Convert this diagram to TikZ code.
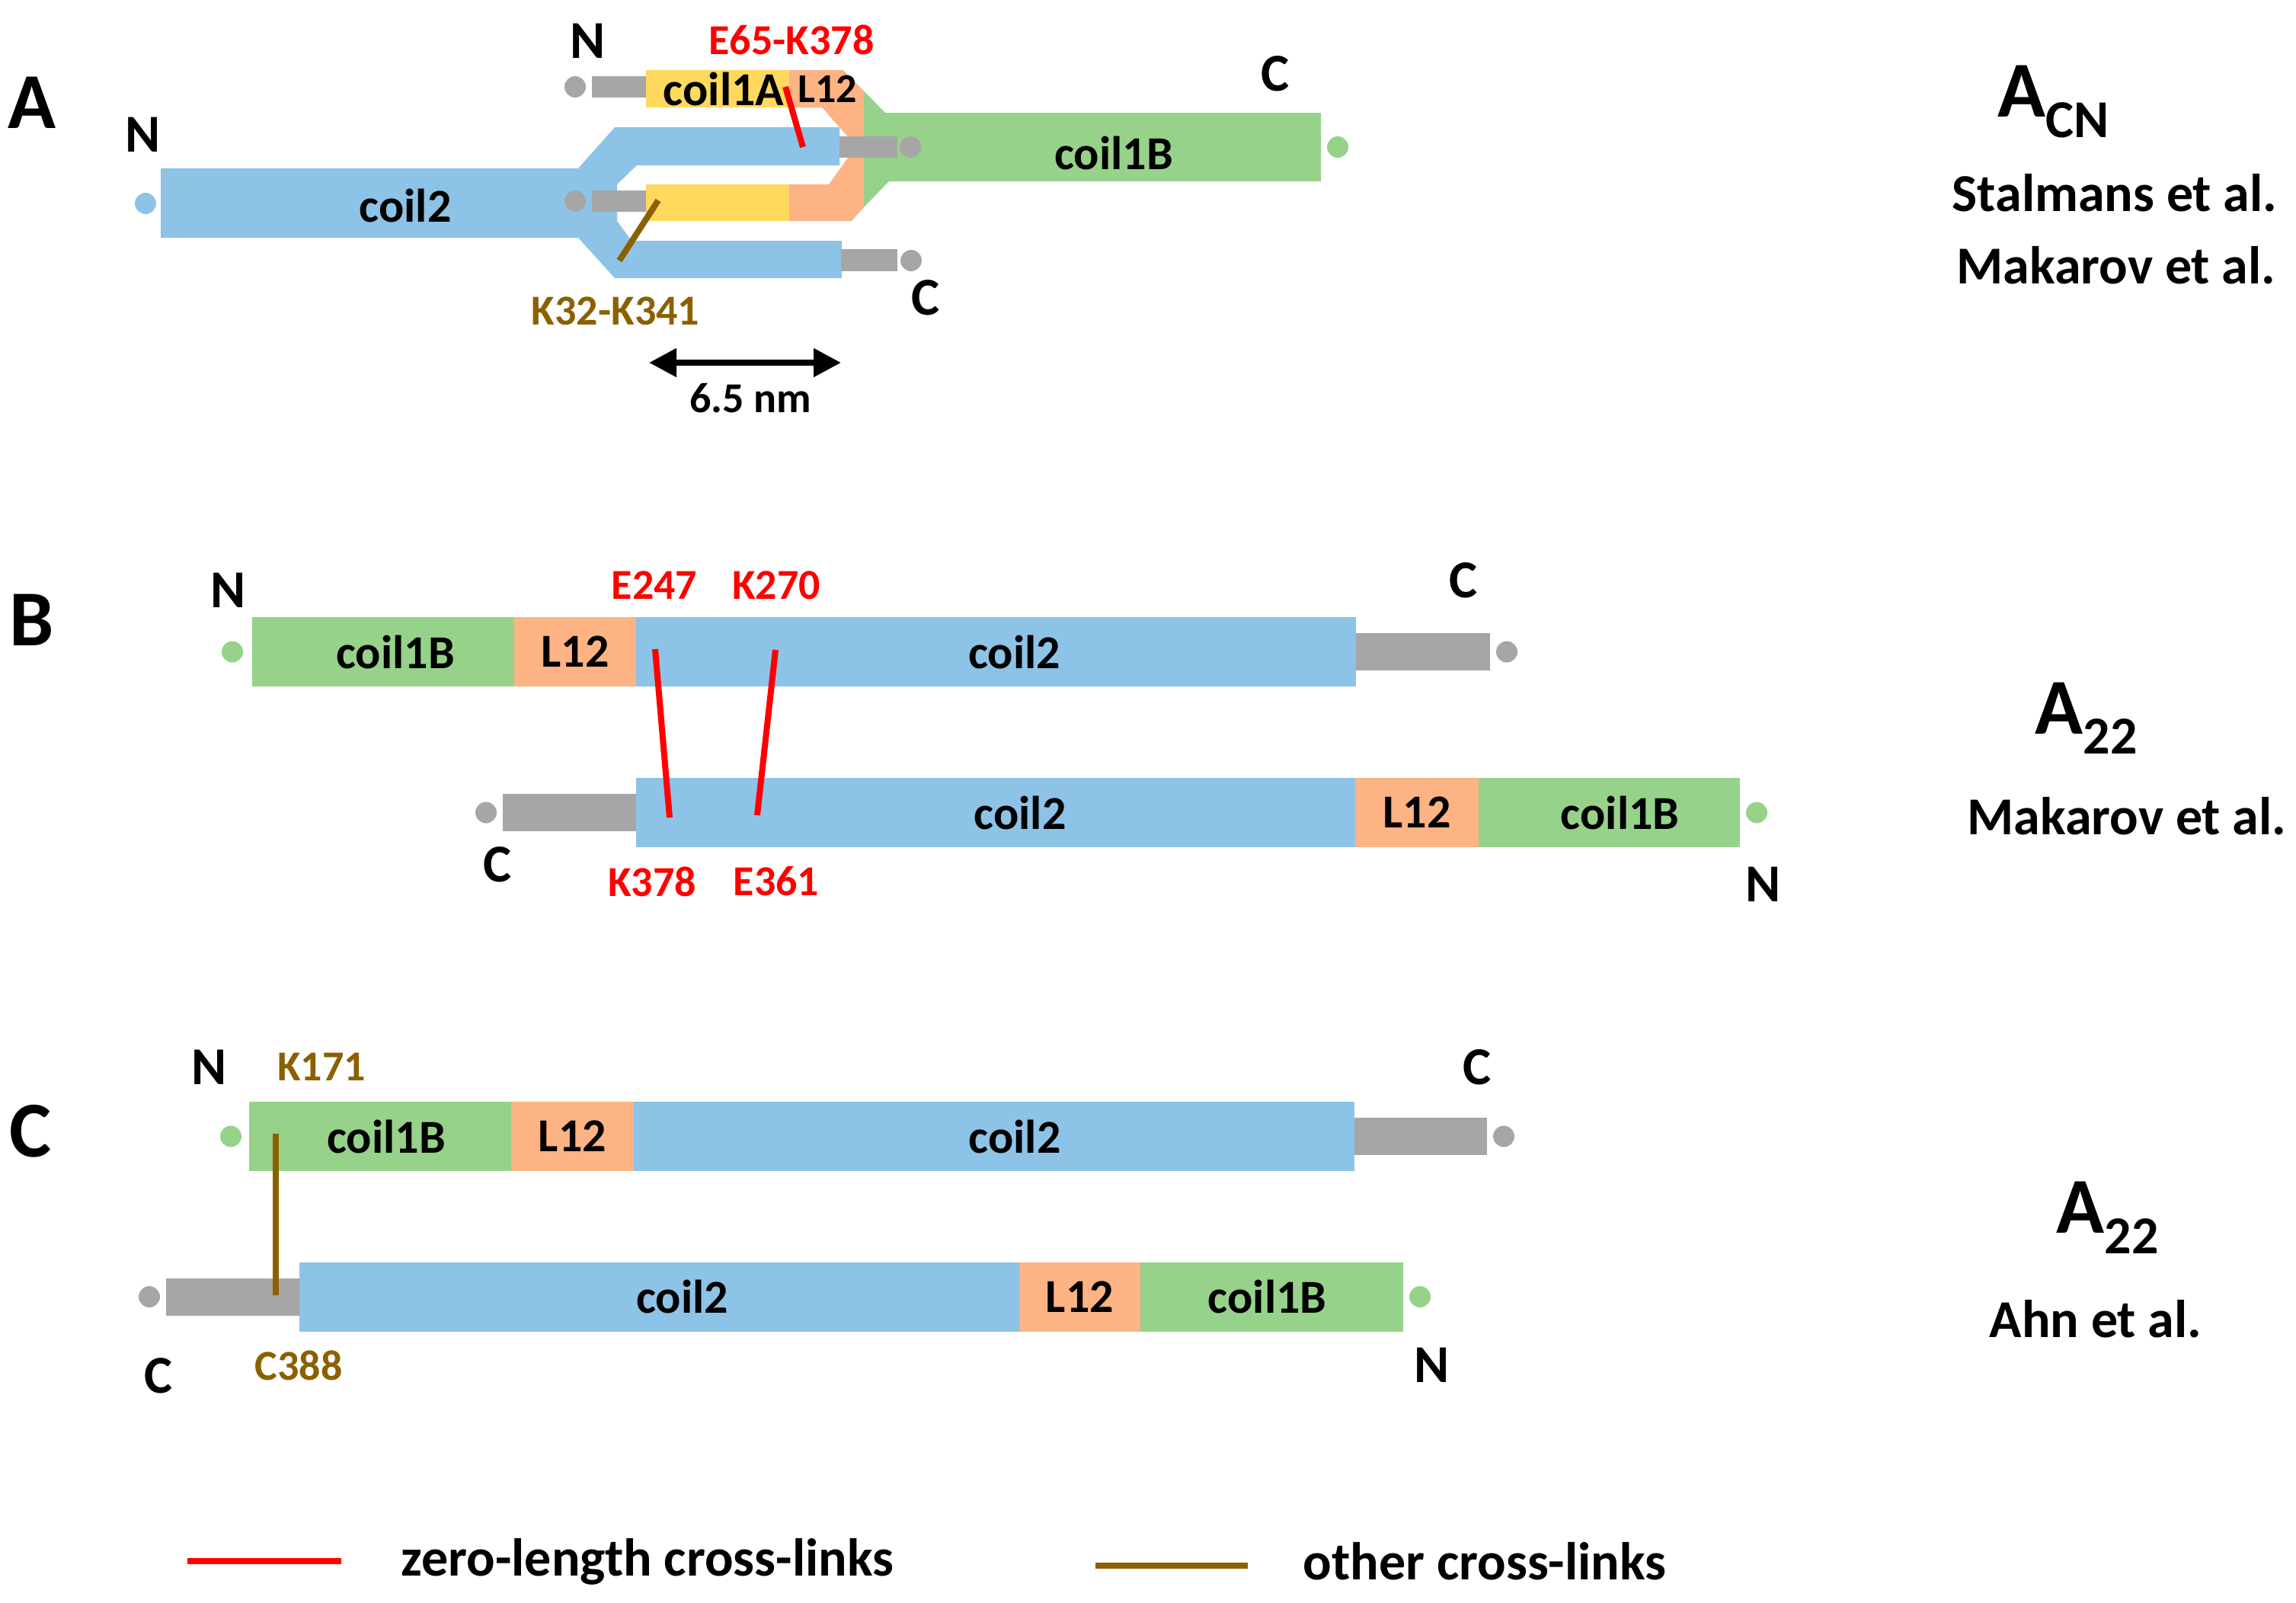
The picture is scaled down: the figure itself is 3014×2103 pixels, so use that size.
\documentclass[tikz,border=0pt]{standalone}
\usepackage{fontspec}
\setmainfont{Carlito}
\usetikzlibrary{positioning}
\usetikzlibrary{arrows.meta}

\definecolor{cblue}{RGB}{141,195,230}
\definecolor{cgreen}{RGB}{151,210,139}
\definecolor{corange}{RGB}{253,179,132}
\definecolor{cyellow}{RGB}{255,217,94}
\definecolor{cgray}{RGB}{166,166,166}
\definecolor{cred}{RGB}{255,0,0}
\definecolor{cbrown}{RGB}{139,96,0}

\begin{document}
\begin{tikzpicture}[x=0.25pt, y=-0.25pt,
  segbox/.style = {rectangle, inner sep=0pt, outer sep=0pt, minimum height=22.75pt, font=\fontsize{15.5}{18}\selectfont\bfseries},
  segtext/.style = {inner sep=0pt, font=\fontsize{15.5}{18}\selectfont\bfseries},
  tailbar/.style = {rectangle, fill=cgray, inner sep=0pt, outer sep=0pt, minimum height=12.25pt},
  enddot/.style = {circle, inner sep=0pt, outer sep=0pt, minimum size=7pt},
  termlbl/.style = {font=\fontsize{17.5}{20}\selectfont\bfseries},
  sitelbl/.style = {font=\fontsize{14}{17}\selectfont\bfseries},
  panellbl/.style = {font=\fontsize{26}{30}\selectfont\bfseries, anchor=base},
  oligolbl/.style = {font=\fontsize{26}{30}\selectfont\bfseries, anchor=base west, inner sep=0pt},
  reflbl/.style = {font=\fontsize{17.5}{20}\selectfont\bfseries, anchor=base},
  zerolink/.style = {draw=cred, line width=2pt},
  otherlink/.style = {draw=cbrown, line width=2pt}]
\useasboundingbox (0,0) rectangle (3014,2103);

% panel A
\fill[corange] (1036,92) -- (1107,92) -- (1134,119.5) -- (1134,272) -- (1118,290) -- (1036,290) -- (1036,242) -- (1088,242) -- (1124,192) -- (1079,141) -- (1036,141) -- cycle;
\fill[cgreen] (1134,119.5) -- (1162,148) -- (1734,148) -- (1734,238) -- (1167,238) -- (1134,272) -- cycle;
\fill[cyellow] (848,92) rectangle (1036,141);
\fill[cyellow] (848,242) rectangle (1036,290);
\fill[cblue] (211,221) -- (759,221) -- (807,167) -- (1102,167) -- (1102,217) -- (836,217) -- (810,242) -- (810,290) -- (829,316) -- (1105,316) -- (1105,365) -- (807,365) -- (759,312) -- (211,312) -- cycle;
\node[tailbar, minimum width=17.75pt, minimum height=7pt] (aNtail1) at (812.5,114) {};
\node[tailbar, minimum width=17.75pt, minimum height=7pt] (aNtail2) at (812.5,264) {};
\node[tailbar, minimum width=19pt, minimum height=7pt] (aCtail1) at (1140,193) {};
\node[tailbar, minimum width=18.5pt, minimum height=7.25pt] (aCtail2) at (1141,341.5) {};
\node[enddot, fill=cgray] (aNdot1) at (755,114) {};
\node[enddot, fill=cgray] (aNdot2) at (755,264) {};
\node[enddot, fill=cgray] (aCdot1) at (1195,193) {};
\node[enddot, fill=cgray] (aCdot2) at (1196,342) {};
\node[enddot, fill=cblue] (aNdot0) at (191,267) {};
\node[enddot, fill=cgreen] (aCdot0) at (1756,193) {};
\node[panellbl] (pA) at (42,168) {A};
\node[termlbl] (aN0) at (188,177) {N};
\node[termlbl] (aN1) at (772,54) {N};
\node[termlbl] (aC0) at (1674,97) {C};
\node[termlbl] (aC2) at (1215,391) {C};
\node[segbox] (acoil2) at (532,270) {coil2};
\node[segbox] (acoilA) at (950,117) {coil1A};
\node[segbox, font=\fontsize{13.5}{16}\selectfont\bfseries] (aL12) at (1086,117) {L12};
\node[segbox] (acoilB) at (1462,201) {coil1B};
\coordinate (e65) at (1031,114);
\coordinate (k378a) at (1054,193);
\coordinate (k32) at (864,263);
\coordinate (k341) at (813,342);
\draw[zerolink] (e65) -- (k378a);
\draw[otherlink] (k32) -- (k341);
\node[sitelbl, text=cred] (aE65) at (1039,52) {E65-K378};
\node[sitelbl, text=cbrown] (aK32) at (808,408) {K32-K341};
\coordinate (nmL) at (852,476);
\coordinate (nmR) at (1104,476);
\draw[line width=2pt, {Triangle[length=9pt,width=9pt]}-{Triangle[length=9pt,width=9pt]}] (nmL) -- (nmR);
\node[sitelbl] (nm) at (985,523) {6.5 nm};
\node[oligolbl] (aoligo) at (2622,153) {A\raisebox{-6.75pt}{\fontsize{17.5}{20}\selectfont CN}};
\node[reflbl] (aref1) at (2776,277) {Stalmans et al.};
\node[reflbl] (aref2) at (2778,372) {Makarov et al.};

% panel B
\node[panellbl] (pB) at (42,847) {B};
\node[segbox, fill=cgreen, minimum width=86pt, label={[segtext, xshift=4pt]center:coil1B}] (bUcoilB) at (503,855.5) {};
\node[segbox, fill=corange, minimum width=40pt, right=0pt of bUcoilB] (bUL12) {L12};
\node[segbox, fill=cblue, minimum width=236.25pt, right=0pt of bUL12, label={[segtext, xshift=6pt]center:coil2}] (bUcoil2) {};
\node[tailbar, minimum width=44pt, right=0pt of bUcoil2] (bUtail) {};
\node[enddot, fill=cgray, right=2pt of bUtail] (bUCdot) {};
\node[enddot, fill=cgreen, left=3pt of bUcoilB] (bUNdot) {};
\node[segbox, fill=cblue, minimum width=236pt, label={[segtext, xshift=8pt]center:coil2}] (bLcoil2) at (1307,1066.5) {};
\node[segbox, fill=corange, minimum width=40.5pt, right=0pt of bLcoil2] (bLL12) {L12};
\node[segbox, fill=cgreen, minimum width=85.75pt, right=0pt of bLL12, label={[segtext, xshift=3.5pt]center:coil1B}] (bLcoilB) {};
\node[tailbar, minimum width=43.75pt, left=0pt of bLcoil2] (bLtail) {};
\node[enddot, fill=cgray, left=2pt of bLtail] (bLCdot) {};
\node[enddot, fill=cgreen, right=2pt of bLcoilB] (bLNdot) {};
\node[termlbl] (bUN) at (300,775) {N};
\node[termlbl] (bUC) at (1921,762) {C};
\node[termlbl] (bLC) at (653,1135) {C};
\node[termlbl] (bLN) at (2315,1161) {N};
\coordinate (e247) at (860,852);
\coordinate (k378b) at (879,1073);
\coordinate (k270) at (1018,853);
\coordinate (e361) at (994,1070);
\draw[zerolink] (e247) -- (k378b);
\draw[zerolink] (k270) -- (e361);
\node[sitelbl, text=cred] (bE247) at (859,768) {E247};
\node[sitelbl, text=cred] (bK270) at (1019,768) {K270};
\node[sitelbl, text=cred] (bK378) at (856,1157) {K378};
\node[sitelbl, text=cred] (bE361) at (1019,1157) {E361};
\node[oligolbl] (boligo) at (2671,963) {A\raisebox{-6.5pt}{\fontsize{17.5}{20}\selectfont 22}};
\node[reflbl] (bref) at (2792,1095) {Makarov et al.};

% panel C
\node[panellbl] (pC) at (40,1518) {C};
\node[segbox, fill=cgreen, minimum width=86pt, label={[segtext, xshift=2pt]center:coil1B}] (cUcoilB) at (499,1491.5) {};
\node[segbox, fill=corange, minimum width=40.25pt, right=0pt of cUcoilB] (cUL12) {L12};
\node[segbox, fill=cblue, minimum width=236.5pt, right=0pt of cUL12, label={[segtext, xshift=6.75pt]center:coil2}] (cUcoil2) {};
\node[tailbar, minimum width=43.5pt, right=0pt of cUcoil2] (cUtail) {};
\node[enddot, fill=cgray, right=2pt of cUtail] (cUCdot) {};
\node[enddot, fill=cgreen, left=2.5pt of cUcoilB] (cUNdot) {};
\node[segbox, fill=cblue, minimum width=236.25pt, label={[segtext, xshift=7.5pt]center:coil2}] (cLcoil2) at (865.5,1702) {};
\node[segbox, fill=corange, minimum width=39.75pt, right=0pt of cLcoil2] (cLL12) {L12};
\node[segbox, fill=cgreen, minimum width=86.25pt, right=0pt of cLL12, label={[segtext, xshift=-1.5pt]center:coil1B}] (cLcoilB) {};
\node[tailbar, minimum width=43.75pt, left=0pt of cLcoil2] (cLtail) {};
\node[enddot, fill=cgray, left=2pt of cLtail] (cLCdot) {};
\node[enddot, fill=cgreen, right=2pt of cLcoilB] (cLNdot) {};
\node[termlbl] (cUN) at (275,1401) {N};
\node[termlbl] (cUC) at (1939,1401) {C};
\node[termlbl] (cLC) at (208,1806) {C};
\node[termlbl] (cLN) at (1880,1792) {N};
\coordinate (k171) at (362,1488);
\coordinate (c388) at (362,1700);
\draw[otherlink] (k171) -- (c388);
\node[sitelbl, text=cbrown] (cK171) at (422,1400) {K171};
\node[sitelbl, text=cbrown] (cC388) at (392,1792) {C388};
\node[oligolbl] (coligo) at (2699,1618) {A\raisebox{-6.75pt}{\fontsize{17.5}{20}\selectfont 22}};
\node[reflbl] (cref) at (2751,1755) {Ahn et al.};

% legend
\coordinate (lzA) at (246,2049);
\coordinate (lzB) at (448,2049);
\coordinate (loA) at (1438,2055);
\coordinate (loB) at (1638,2055);
\draw[zerolink] (lzA) -- (lzB);
\draw[otherlink] (loA) -- (loB);
\node[reflbl] (lzT) at (850,2068) {zero-length cross-links};
\node[reflbl] (loT) at (1949,2073) {other cross-links};
\end{tikzpicture}
\end{document}
